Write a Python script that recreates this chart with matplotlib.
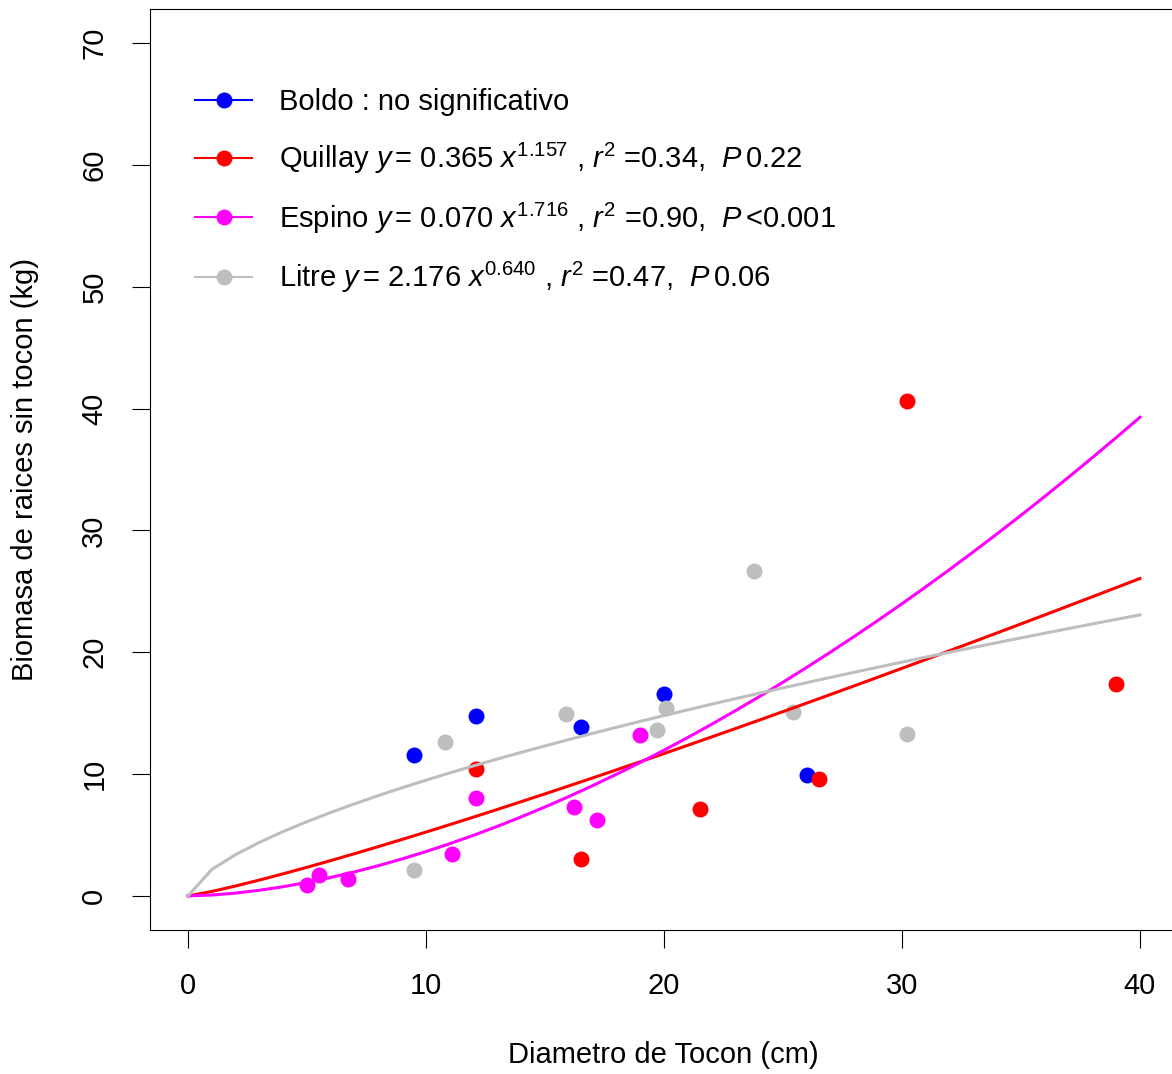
import numpy as np
import matplotlib
matplotlib.use("Agg")
import matplotlib.pyplot as plt
from matplotlib.lines import Line2D

plt.rcParams['font.family'] = ['Liberation Sans', 'DejaVu Sans']
plt.rcParams['mathtext.fontset'] = 'custom'
plt.rcParams['mathtext.rm'] = 'Liberation Sans'
plt.rcParams['mathtext.it'] = 'Liberation Sans:italic'

# stump diameter (cm) and root biomass (kg) per species
boldo_x = [9.5, 12.1, 16.5, 20.0, 26.0]
boldo_y = [11.6, 14.8, 13.9, 16.6, 9.9]

quillay_x = [12.1, 16.5, 21.5, 26.5, 30.2, 39.0]
quillay_y = [10.4, 3.0, 7.1, 9.6, 40.6, 17.4]

espino_x = [5.0, 5.5, 6.7, 11.1, 12.1, 16.2, 17.2, 19.0]
espino_y = [0.9, 1.7, 1.4, 3.4, 8.0, 7.3, 6.2, 13.2]

litre_x = [9.5, 10.8, 15.9, 19.7, 20.1, 23.8, 25.4, 30.2]
litre_y = [2.1, 12.6, 14.9, 13.6, 15.4, 26.7, 15.1, 13.3]

# fitted power models y = a * x^b
quillay_fit = (0.365, 1.157)
espino_fit = (0.070, 1.716)
litre_fit = (2.176, 0.640)

labels = [
    'Boldo : no significativo',
    r'Quillay $\mathit{y}\,$= 0.365 $\mathit{x}^{1.157}$ , $\mathit{r}^{2}$ =0.34,  $\mathit{P}\,$0.22',
    r'Espino $\mathit{y}\,$= 0.070 $\mathit{x}^{1.716}$ , $\mathit{r}^{2}$ =0.90,  $\mathit{P}\,$<0.001',
    r'Litre $\mathit{y}\,$= 2.176 $\mathit{x}^{0.640}$ , $\mathit{r}^{2}$ =0.47,  $\mathit{P}\,$0.06',
]
colors = ['#0000ff', '#ff0000', '#ff00ff', '#bebebe']

W, H = 1172, 1074
fs = 21
fig = plt.figure(figsize=(W / 100, H / 100), dpi=100)
ax = fig.add_axes([150 / W, (H - 930) / H, (1178 - 150) / W, (930 - 9) / H])

xs = np.arange(0, 41)
ms = 11.5
ax.plot(boldo_x, boldo_y, 'o', color=colors[0], ms=ms, mec='none')
ax.plot(quillay_x, quillay_y, 'o', color=colors[1], ms=ms, mec='none')
ax.plot(espino_x, espino_y, 'o', color=colors[2], ms=ms, mec='none')
ax.plot(litre_x, litre_y, 'o', color=colors[3], ms=ms, mec='none')

for (a, b), c in zip([quillay_fit, espino_fit, litre_fit], colors[1:]):
    ax.plot(xs, a * xs ** b, '-', color=c, lw=2.2)

ax.set_xlim(-1.6, 41.6)
ax.set_ylim(-2.8, 72.8)
ax.set_xticks([0, 10, 20, 30, 40])
ax.set_yticks([0, 10, 20, 30, 40, 50, 60, 70])
ax.tick_params(direction='out', length=13, width=0.8, labelsize=fs, pad=17)
for lab in ax.get_yticklabels():
    lab.set_rotation(90)
    lab.set_va('center')
for sp in ax.spines.values():
    sp.set_linewidth(0.8)

ax.set_xlabel('Diametro de Tocon (cm)', fontsize=fs, va='center')
ax.xaxis.set_label_coords(0.499, -0.1357)
ax.set_ylabel('Biomasa de raices sin tocon (kg)', fontsize=fs, va='center')
ax.yaxis.set_label_coords(-0.1216, 0.4995)

handles = [Line2D([], [], color=c, lw=1.5, marker='o', ms=ms, mec='none') for c in colors]
ax.legend(handles, labels, loc='upper left', bbox_to_anchor=(0.044, 0.914),
          frameon=False, fontsize=fs, handlelength=1.95, handletextpad=0.93,
          labelspacing=0.84, borderaxespad=0, borderpad=0)

fig.savefig('out.png', dpi=100)
